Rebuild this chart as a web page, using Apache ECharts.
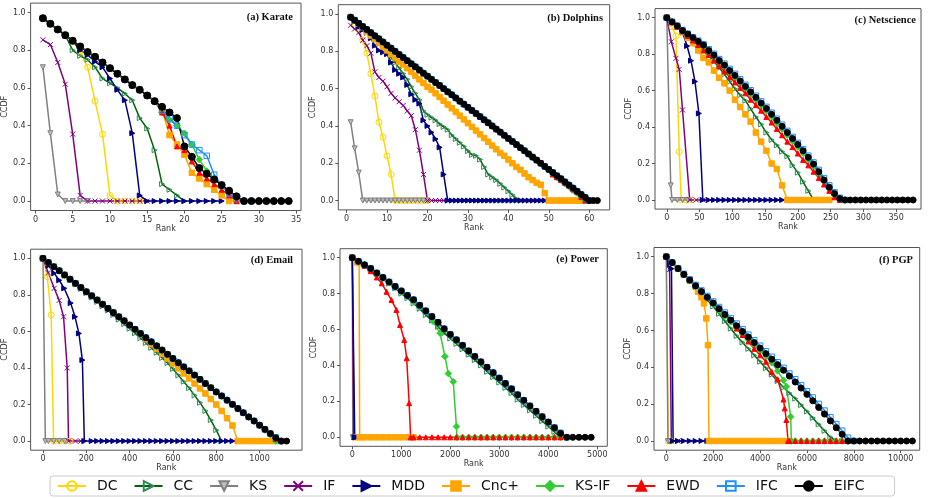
<!DOCTYPE html>
<html>
<head>
<meta charset="utf-8">
<script src="https://cdn.jsdelivr.net/npm/echarts@6/dist/echarts.min.js"></script>
<style>
  html, body { margin: 0; padding: 0; background: #fff; }
  #chart { width: 928px; height: 498px; }
</style>
</head>
<body>
<div id="chart"></div>
<script>
// ---- method names (legend order = drawing order) ----
const methodNames = ['DC', 'CC', 'KS', 'IF', 'MDD', 'Cnc+', 'KS-IF', 'EWD', 'IFC', 'EIFC'];

// ---- tick labels ----
const ccdfTicks = [0, 0.2, 0.4, 0.6, 0.8, 1.0];
const karateTicks = [0, 5, 10, 15, 20, 25, 30, 35];
const dolTicks = [0, 10, 20, 30, 40, 50, 60];
const netTicks = [0, 50, 100, 150, 200, 250, 300, 350];
const emailTicks = [0, 200, 400, 600, 800, 1000];
const powTicks = [0, 1000, 2000, 3000, 4000, 5000];
const pgpTicks = [0, 2000, 4000, 6000, 8000, 10000];

// ---- (a) Karate ----
const karateRank = [1,2,3,4,5,6,7,8,9,10,11,12,13,14,15,16,17,18,19,20,21,22,23,24,25,26,27,28,29,30,31,32,33,34];
const karateDC = [0.97,0.94,0.91,0.88,0.85,0.79,0.71,0.53,0.355,0.03,0,0,0,0];
const karateCC = [0.97,0.94,0.91,0.88,0.80,0.77,0.75,0.71,0.65,0.625,0.60,0.57,0.535,0.44,0.385,0.27,0.09,0.06,0.03,0];
const karateKS = [0.71,0.36,0.035,0,0,0,0];
const karateIF = [0.855,0.83,0.735,0.62,0.355,0.03,0,0,0,0,0,0,0,0,0];
const karateMDD = [0.97,0.94,0.91,0.88,0.85,0.80,0.775,0.74,0.71,0.65,0.59,0.535,0.36,0.03,0,0,0,0,0,0,0,0,0,0,0];
const karateCnc = [0.97,0.94,0.91,0.88,0.85,0.82,0.79,0.765,0.735,0.705,0.675,0.645,0.615,0.59,0.56,0.53,0.48,0.35,0.30,0.245,0.15,0.12,0.09,0.06,0.03,0,0];
const karateKSIF = [0.97,0.94,0.91,0.88,0.85,0.82,0.79,0.765,0.735,0.705,0.675,0.645,0.615,0.59,0.56,0.53,0.47,0.43,0.40,0.36,0.30,0.22,0.16,0.12,0.08,0.05,0.015,0];
const karateEWD = [0.97,0.94,0.91,0.88,0.85,0.82,0.79,0.765,0.735,0.705,0.675,0.645,0.615,0.59,0.56,0.53,0.47,0.40,0.29,0.27,0.21,0.15,0.12,0.09,0.06,0.03,0];
const karateIFC = [0.97,0.94,0.91,0.88,0.85,0.82,0.79,0.765,0.735,0.705,0.675,0.645,0.615,0.59,0.56,0.53,0.48,0.44,0.40,0.35,0.30,0.27,0.24,0.14,0.08,0.04,0.01,0];
const karateEIFC = [0.97,0.94,0.91,0.88,0.85,0.82,0.79,0.765,0.735,0.705,0.675,0.645,0.615,0.59,0.56,0.53,0.50,0.47,0.44,0.29,0.235,0.175,0.145,0.115,0.085,0.055,0.025,0,0,0,0,0,0,0];

// ---- (b) Dolphins ----
const dolRank = [1,2,3,4,5,6,7,8,9,10,11,12,13,14,15,16,17,18,19,20,21,22,23,24,25,26,27,28,29,30,31,32,33,34,35,36,37,38,39,40,41,42,43,44,45,46,47,48,49,50,51,52,53,54,55,56,57,58,59,60,61,62];
const dolDC = [0.983,0.95,0.92,0.86,0.79,0.68,0.56,0.42,0.34,0.24,0.14,0,0,0,0,0,0,0,0,0];
const dolCC = [0.983,0.967,0.95,0.93,0.91,0.89,0.865,0.845,0.82,0.79,
  0.765,0.74,0.71,0.68,0.65,0.61,0.575,0.54,0.48,0.46,
  0.445,0.43,0.41,0.395,0.38,0.35,0.33,0.31,0.29,0.265,
  0.245,0.24,0.22,0.18,0.14,0.125,0.11,0.09,0.07,0.05,
  0.03,0.01,0];
const dolKS = [0.42,0.28,0.15,0,0,0,0,0,0,0,0,0,0,0,0,0,0,0,0,0];
const dolIF = [0.94,0.92,0.90,0.86,0.83,0.79,0.69,0.66,0.64,0.61,
  0.575,0.55,0.53,0.51,0.48,0.455,0.38,0.27,0.14,0,0,0,0,0,0];
const dolMDD = [0.983,0.96,0.93,0.915,0.9,0.87,0.83,0.805,0.795,0.785,
  0.74,0.70,0.68,0.66,0.62,0.57,0.54,0.52,0.43,0.40,
  0.365,0.33,0.285,0.14,0,0,0,0,0,0,
  0,0,0,0,0,0,0,0,0,0,
  0,0,0,0,0,0,0,0,0,0];
const dolCnc = [0.983,0.967,0.95,0.93,0.905,0.885,0.865,0.845,0.825,0.805,
  0.785,0.765,0.745,0.73,0.71,0.69,0.67,0.65,0.63,0.61,
  0.595,0.575,0.555,0.535,0.515,0.495,0.475,0.455,0.435,0.415,
  0.395,0.375,0.355,0.335,0.315,0.295,0.275,0.255,0.24,0.22,
  0.2,0.18,0.165,0.145,0.125,0.11,0.095,0.085,0.04,0,
  0,0,0,0,0,0,0,0];
const dolKSIF = [0.983,0.967,0.95,0.933,0.917,0.9,0.883,0.867,0.85,0.833,
  0.817,0.8,0.783,0.767,0.75,0.733,0.717,0.7,0.683,0.667,
  0.65,0.633,0.617,0.6,0.583,0.567,0.55,0.533,0.517,0.5,
  0.483,0.467,0.45,0.433,0.417,0.4,0.383,0.367,0.35,0.333,
  0.317,0.3,0.283,0.267,0.25,0.233,0.217,0.2,0.183,0.165,
  0.145,0.125,0.11,0.09,0.075,0.055,0.04,0.02,0];
const dolEWD = [0.983,0.967,0.95,0.933,0.917,0.9,0.883,0.867,0.85,0.833,
  0.817,0.8,0.783,0.767,0.75,0.733,0.717,0.7,0.683,0.667,
  0.65,0.633,0.617,0.6,0.583,0.567,0.55,0.533,0.517,0.5,
  0.483,0.467,0.45,0.433,0.417,0.4,0.383,0.367,0.35,0.333,
  0.317,0.3,0.283,0.267,0.25,0.233,0.217,0.2,0.183,0.167,
  0.14,0.125,0.11,0.095,0.08,0.06,0.045,0.02,0];
const dolIFC = [0.983,0.967,0.95,0.933,0.917,0.9,0.883,0.867,0.85,0.833,
  0.817,0.8,0.783,0.767,0.75,0.733,0.717,0.7,0.683,0.667,
  0.65,0.633,0.617,0.6,0.583,0.567,0.55,0.533,0.517,0.5,
  0.483,0.467,0.45,0.433,0.417,0.4,0.383,0.367,0.35,0.333,
  0.317,0.3,0.283,0.267,0.25,0.233,0.217,0.2,0.183,0.167,
  0.15,0.133,0.117,0.1,0.083,0.067,0.05,0.033,0.017,0];
const dolEIFC = [0.983,0.967,0.95,0.933,0.917,0.9,0.883,0.867,0.85,0.833,
  0.817,0.8,0.783,0.767,0.75,0.733,0.717,0.7,0.683,0.667,
  0.65,0.633,0.617,0.6,0.583,0.567,0.55,0.533,0.517,0.5,
  0.483,0.467,0.45,0.433,0.417,0.4,0.383,0.367,0.35,0.333,
  0.317,0.3,0.283,0.267,0.25,0.233,0.217,0.2,0.183,0.167,
  0.15,0.133,0.117,0.1,0.083,0.067,0.05,0.033,0.017,0,
  0,0];

// ---- (c) Netscience ----
const netRank = [0,8,16,24,32,40,48,56,64,72,80,88,96,104,112,120,128,136,144,152,160,168,176,184,192,200,208,216,224,232,240,248,256,264,272,280,288,296,304,312,320,328,336,344,352,360,368,376];
const netDCRank = [0,8,14,19,22,30,38];
const netDC = [1,0.95,0.9,0.265,0,0,0];
const netCC = [1.0,0.975,0.95,0.925,0.9,0.875,0.85,0.82,0.79,0.76,
  0.725,0.69,0.65,0.61,0.575,0.545,0.5,0.455,0.415,0.37,
  0.33,0.3,0.265,0.24,0.19,0.15,0.1,0.05,0,0,0,0];
const netKSRank = [0,6,8,16,24,32];
const netKS = [1,0.08,0,0,0,0];
const netIFRank = [0,7,14,19,24,35,45,55];
const netIF = [1,0.868,0.777,0.717,0.494,0,0,0];
const netMDDRank = [0,8,16,24,31,37,43,49,55,64,72,80,88,96,104,112,120,128,136,144,152,160,168,176];
const netMDD = [1,0.98,0.955,0.92,0.845,0.764,0.65,0.475,0,0,0,0,0,0,0,0,0,0,0,0,0,0,0,0];
const netCnc = [1.0,0.975,0.95,0.92,0.89,0.86,0.82,0.78,0.755,0.71,
  0.67,0.64,0.6,0.55,0.51,0.47,0.43,0.37,0.32,0.27,
  0.2,0.17,0.08,0,0,0,0,0,0,0,0,0];
const netKSIF = [1.0,0.976,0.953,0.927,0.906,0.885,0.864,0.843,0.812,0.786,
  0.755,0.73,0.699,0.671,0.641,0.61,0.58,0.55,0.519,0.488,
  0.456,0.423,0.39,0.356,0.323,0.29,0.256,0.22,0.184,0.143,
  0.1,0.062,0.028,0.004,0];
const netEWD = [1.0,0.975,0.95,0.925,0.9,0.875,0.85,0.82,0.795,0.765,
  0.735,0.705,0.675,0.645,0.615,0.585,0.55,0.52,0.49,0.455,
  0.425,0.39,0.355,0.32,0.29,0.255,0.22,0.19,0.155,0.12,
  0.085,0.05,0.015,0];
const netIFC = [1.0,0.978,0.956,0.932,0.912,0.893,0.874,0.855,0.827,0.802,
  0.773,0.748,0.719,0.692,0.662,0.632,0.602,0.572,0.541,0.511,
  0.479,0.446,0.413,0.379,0.346,0.313,0.279,0.243,0.206,0.165,
  0.12,0.08,0.042,0.012,0];
const netEIFC = [1.0,0.977,0.955,0.93,0.91,0.89,0.87,0.85,0.82,0.795,
  0.765,0.74,0.71,0.683,0.653,0.623,0.593,0.563,0.532,0.502,
  0.47,0.437,0.404,0.37,0.337,0.304,0.27,0.234,0.197,0.155,
  0.11,0.07,0.035,0.008,0,0,0,0,0,0,
  0,0,0,0,0,0,0,0];

// ---- (d) Email ----
const emailRank = [0,25,50,75,100,125,150,175,200,225,250,275,300,325,350,375,400,425,450,475,500,525,550,575,600,625,650,675,700,725,750,775,800,825,850,875,900,925,950,975,1000,1025,1050,1075,1100,1125];
const emailDCRank = [0,20,38,49,75,100,125];
const emailDC = [1,0.9,0.69,0,0,0,0];
const emailCC = [1.0,0.975,0.952,0.93,0.905,0.88,0.857,0.833,0.81,0.786,
  0.762,0.738,0.715,0.69,0.665,0.64,0.615,0.59,0.563,0.537,
  0.51,0.483,0.455,0.427,0.395,0.36,0.325,0.29,0.25,0.21,
  0.165,0.115,0.06,0];
const emailKSRank = [0,11,25,50,75,100];
const emailKS = [1,0,0,0,0,0];
const emailIFRank = [0,25,52,75,95,112,118,150,175];
const emailIF = [1,0.92,0.836,0.77,0.68,0.4,0,0,0];
const emailMDDRank = [0,25,52,75,98,128,148,166,182,191,225,250,275,300,325,350,375,400,425,450,475,500,525,550,575,600,625,650,675,700,725,750,775,800,825,850,875,900];
const emailMDD = [1,0.96,0.918,0.88,0.836,0.755,0.68,0.589,0.443,0,
  0,0,0,0,0,0,0,0,0,0,0,0,0,0,0,0,0,0,0,0,0,0,0,0,0,0,0,0];
const emailCnc = [1.0,0.977,0.954,0.932,0.909,0.886,0.863,0.84,0.817,0.795,
  0.772,0.749,0.726,0.703,0.68,0.658,0.635,0.61,0.585,0.558,
  0.53,0.505,0.478,0.452,0.425,0.398,0.37,0.343,0.315,0.288,
  0.26,0.23,0.2,0.165,0.125,0.085,0,0,0,0,
  0,0,0,0];
const emailKSIF = [1.0,0.977,0.954,0.932,0.909,0.886,0.863,0.84,0.817,0.795,
  0.772,0.749,0.726,0.703,0.68,0.658,0.635,0.612,0.589,0.566,
  0.543,0.521,0.498,0.475,0.452,0.429,0.406,0.384,0.361,0.338,
  0.315,0.292,0.269,0.247,0.224,0.201,0.178,0.155,0.132,0.11,
  0.085,0.06,0.035,0,0];
const emailEWD = [1.0,0.977,0.954,0.932,0.909,0.886,0.863,0.84,0.817,0.795,
  0.772,0.749,0.726,0.703,0.68,0.658,0.635,0.612,0.589,0.566,
  0.543,0.521,0.498,0.475,0.452,0.429,0.406,0.384,0.361,0.338,
  0.315,0.292,0.269,0.247,0.224,0.201,0.178,0.155,0.132,0.11,
  0.087,0.064,0.04,0.012,0];
const emailIFC = [1.0,0.977,0.954,0.932,0.909,0.886,0.863,0.84,0.817,0.795,
  0.772,0.749,0.726,0.703,0.68,0.658,0.635,0.612,0.589,0.566,
  0.543,0.521,0.498,0.475,0.452,0.429,0.406,0.384,0.361,0.338,
  0.315,0.292,0.269,0.247,0.224,0.201,0.178,0.155,0.132,0.11,
  0.087,0.064,0.041,0.02,0];
const emailEIFC = [1.0,0.977,0.954,0.932,0.909,0.886,0.863,0.84,0.817,0.795,
  0.772,0.749,0.726,0.703,0.68,0.658,0.635,0.612,0.589,0.566,
  0.543,0.521,0.498,0.475,0.452,0.429,0.406,0.384,0.361,0.338,
  0.315,0.292,0.269,0.247,0.224,0.201,0.178,0.155,0.132,0.11,
  0.087,0.064,0.041,0.018,0,0];

// ---- (e) Power ----
const powRank = [0,125,250,375,500,625,750,875,1000,1125,1250,1375,1500,1625,1750,1875,2000,2125,2250,2375,2500,2625,2750,2875,3000,3125,3250,3375,3500,3625,3750,3875,4000,4125,4250,4375,4500,4625,4750,4875];
const powDCRank = [0,40,80];
const powDC = [1,0,0];
const powCC = [1.0,0.98,0.96,0.935,0.91,0.88,0.855,0.83,0.8,0.775,
  0.745,0.715,0.68,0.65,0.615,0.58,0.55,0.52,0.49,0.46,
  0.43,0.4,0.365,0.335,0.305,0.275,0.245,0.21,0.18,0.15,
  0.12,0.09,0.06,0.03,0];
const powKSRank = [0,10,60];
const powKS = [1,0,0];
const powIFRank = [0,30,60];
const powIF = [1,0,0];
const powMDDRank = [0,50,75];
const powMDD = [1,0,0];
const powCncRank = [0,90,140,150,250,375,500,625,750,875,1000,1125,1250];
const powCnc = [1,0.975,0.97,0,0,0,0,0,0,0,0,0,0];
const powKSIFRank = [0,125,250,375,500,625,750,875,1000,1125,1250,1375,1500,1650,1790,1890,1960,2060,2125,2135,2250,2375,2500,2625,2750,2875,3000,3125,3250,3375,3500,3625,3750,3875,4000,4125,4250];
const powKSIF = [1.0,0.98,0.96,0.935,0.91,0.885,0.86,0.835,0.81,0.785,
  0.755,0.725,0.7,0.645,0.58,0.45,0.355,0.31,0.06,0,
  0,0,0,0,0,0,0,0,0,0,0,0,0,0,0,0,0];
const powEWDRank = [0,125,250,375,500,600,700,800,900,975,1060,1110,1160,1190,1250,1375,1500,1625,1750,1875,2000,2125,2250,2375,2500,2625,2750,2875,3000,3125,3250,3375,3500,3625,3750,3875,4000,4125,4250];
const powEWD = [1.0,0.98,0.955,0.925,0.89,0.857,0.81,0.764,0.709,0.625,
  0.542,0.44,0.19,0,0,0,0,0,0,0,0,0,0,0,0,0,0,0,0,0,0,0,0,0,0,0,0,0,0];
const powIFC = [1.0,0.98,0.96,0.94,0.915,0.89,0.865,0.84,0.815,0.79,
  0.766,0.735,0.704,0.672,0.64,0.604,0.573,0.543,0.512,0.481,
  0.45,0.42,0.39,0.36,0.33,0.3,0.27,0.237,0.206,0.175,
  0.145,0.115,0.085,0.055,0.025,0];
const powEIFC = [1.0,0.98,0.96,0.94,0.915,0.89,0.865,0.84,0.815,0.79,
  0.766,0.735,0.704,0.672,0.64,0.604,0.573,0.543,0.512,0.481,
  0.45,0.42,0.39,0.36,0.33,0.3,0.27,0.237,0.206,0.175,
  0.145,0.115,0.085,0.053,0.022,0,0,0,0,0];

// ---- (f) PGP ----
const pgpRank = [0,250,500,750,1000,1250,1500,1750,2000,2250,2500,2750,3000,3250,3500,3750,4000,4250,4500,4750,5000,5250,5500,5750,6000,6250,6500,6750,7000,7250,7500,7750,8000,8250,8500,8750,9000,9250,9500,9750,10000,10250,10500];
const pgpDCRank = [0,80,200];
const pgpDC = [1,0,0];
const pgpCC = [1.0,0.968,0.935,0.9,0.868,0.835,0.8,0.765,0.73,0.69,
  0.65,0.61,0.57,0.535,0.5,0.465,0.43,0.395,0.36,0.325,
  0.29,0.26,0.23,0.195,0.16,0.125,0.09,0.055,0.02,0,0,0];
const pgpKSRank = [0,70,140];
const pgpKS = [1,0,0];
const pgpIFRank = [0,140,215,500];
const pgpIF = [1,0.93,0,0];
const pgpMDDRank = [0,150,220,290,500,750,1000,1250,1500,1750];
const pgpMDD = [1,0.96,0.935,0,0,0,0,0,0,0];
const pgpCncRank = [0,250,500,750,1000,1250,1351,1500,1607,1707,1778,1820,2000,2250,2500,2750,3000,3250,3500,3750,4000,4250,4500,4750,5000,5250];
const pgpCnc = [1.0,0.968,0.936,0.904,0.873,0.842,0.81,0.78,0.747,0.665,0.52,0,0,0,0,0,0,0,0,0,0,0,0,0,0,0];
const pgpKSIFRank = [0,250,500,750,1000,1250,1500,1750,2000,2250,2500,2750,3000,3250,3500,3750,4000,4250,4500,4750,5000,5121,5306,5334,5500,5750,6000,6250,6500,6750,7000,7250,7500,7750];
const pgpKSIF = [1.0,0.967,0.934,0.902,0.87,0.838,0.806,0.774,0.742,0.71,
  0.678,0.646,0.614,0.582,0.55,0.52,0.49,0.46,0.425,0.38,
  0.33,0.295,0.132,0,0,0,0,0,0,0,0,0,0,0];
const pgpEWDRank = [0,250,500,750,1000,1250,1500,1750,2000,2250,2500,2750,3000,3250,3500,3750,4000,4250,4500,4750,5000,5050,5121,5192,5250,5500,5750,6000,6250,6500,6750,7000,7250,7500,7750];
const pgpEWD = [1.0,0.968,0.936,0.904,0.873,0.842,0.811,0.78,0.749,0.718,
  0.687,0.656,0.61,0.575,0.54,0.5,0.465,0.43,0.375,0.335,
  0.225,0.177,0.114,0,0,0,0,0,0,0,0,0,0,0,0];
const pgpIFC = [1.0,0.969,0.938,0.907,0.877,0.847,0.817,0.787,0.757,0.727,
  0.697,0.667,0.637,0.607,0.577,0.547,0.517,0.487,0.457,0.427,
  0.397,0.366,0.335,0.303,0.27,0.236,0.201,0.165,0.129,0.092,
  0.056,0.018,0];
const pgpEIFC = [1.0,0.968,0.936,0.904,0.873,0.842,0.811,0.78,0.749,0.718,
  0.687,0.656,0.625,0.594,0.564,0.534,0.504,0.474,0.444,0.414,
  0.384,0.352,0.32,0.287,0.253,0.218,0.182,0.146,0.109,0.072,
  0.036,0,0,0,0,0,0,0,0,0,0,0,0];

// ---- marker / line styles per method ----
const methodStyle = {
  'DC':    { line: '#FFD700', fill: 'rgba(255,255,255,0)', border: '#FFD700', symbol: 'circle', rotate: 0, size: 6 },
  'CC':    { line: '#006400', fill: 'rgba(255,255,255,0)', border: '#2E8B57', symbol: 'triangle', rotate: -90, size: 5 },
  'KS':    { line: '#808080', fill: '#BDBDBD', border: '#808080', symbol: 'triangle', rotate: 180, size: 5 },
  'IF':    { line: '#800080', fill: '#800080', border: '#800080', symbol: 'path://M0,0L10,10M10,0L0,10', rotate: 0, size: 5 },
  'MDD':   { line: '#000080', fill: '#000080', border: '#000080', symbol: 'triangle', rotate: -90, size: 5 },
  'Cnc+':  { line: '#FFA500', fill: '#FFA500', border: '#FFA500', symbol: 'rect', rotate: 0, size: 5.5 },
  'KS-IF': { line: '#32CD32', fill: '#32CD32', border: '#32CD32', symbol: 'diamond', rotate: 0, size: 6.5 },
  'EWD':   { line: '#FF0000', fill: '#FF0000', border: '#FF0000', symbol: 'triangle', rotate: 0, size: 5 },
  'IFC':   { line: '#1E90FF', fill: 'rgba(255,255,255,0)', border: '#1E90FF', symbol: 'rect', rotate: 0, size: 5.5 },
  'EIFC':  { line: '#000000', fill: '#000000', border: '#000000', symbol: 'circle', rotate: 0, size: 6 }
};

// panel layout: box = [left, top, width, height] in px
const panels = [
  { title: '(a) Karate', box: [29.3, 3.1, 271.7, 207.4], xRange: [-0.65, 35.65], xTicks: karateTicks, titleAt: [293, 17],
    lines: [[karateRank, karateDC], [karateRank, karateCC], [karateRank, karateKS], [karateRank, karateIF], [karateRank, karateMDD],
            [karateRank, karateCnc], [karateRank, karateKSIF], [karateRank, karateEWD], [karateRank, karateIFC], [karateRank, karateEIFC]] },
  { title: '(b) Dolphins', box: [338.3, 4.7, 271.4, 205.2], xRange: [-2.05, 65.05], xTicks: dolTicks, titleAt: [603, 18],
    lines: [[dolRank, dolDC], [dolRank, dolCC], [dolRank, dolKS], [dolRank, dolIF], [dolRank, dolMDD],
            [dolRank, dolCnc], [dolRank, dolKSIF], [dolRank, dolEWD], [dolRank, dolIFC], [dolRank, dolEIFC]] },
  { title: '(c) Netscience', box: [655, 8.6, 266, 200.5], xRange: [-18, 388], xTicks: netTicks, titleAt: [916, 20],
    lines: [[netDCRank, netDC], [netRank, netCC], [netKSRank, netKS], [netIFRank, netIF], [netMDDRank, netMDD],
            [netRank, netCnc], [netRank, netKSIF], [netRank, netEWD], [netRank, netIFC], [netRank, netEIFC]] },
  { title: '(d) Email', box: [28.7, 249.2, 273.3, 201], xRange: [-57, 1196], xTicks: emailTicks, titleAt: [293, 260],
    lines: [[emailDCRank, emailDC], [emailRank, emailCC], [emailKSRank, emailKS], [emailIFRank, emailIF], [emailMDDRank, emailMDD],
            [emailRank, emailCnc], [emailRank, emailKSIF], [emailRank, emailEWD], [emailRank, emailIFC], [emailRank, emailEIFC]] },
  { title: '(e) Power', box: [340, 248.7, 267.3, 197.6], xRange: [-251, 5204], xTicks: powTicks, titleAt: [599, 259],
    lines: [[powDCRank, powDC], [powRank, powCC], [powKSRank, powKS], [powIFRank, powIF], [powMDDRank, powMDD],
            [powCncRank, powCnc], [powKSIFRank, powKSIF], [powEWDRank, powEWD], [powRank, powIFC], [powRank, powEIFC]] },
  { title: '(f) PGP', box: [654, 247.5, 265.7, 202.7], xRange: [-525, 10810], xTicks: pgpTicks, titleAt: [913, 260],
    lines: [[pgpDCRank, pgpDC], [pgpRank, pgpCC], [pgpKSRank, pgpKS], [pgpIFRank, pgpIF], [pgpMDDRank, pgpMDD],
            [pgpCncRank, pgpCnc], [pgpKSIFRank, pgpKSIF], [pgpEWDRank, pgpEWD], [pgpRank, pgpIFC], [pgpRank, pgpEIFC]] }
];

const axisFont = 'DejaVu Sans';
const axisColor = '#555';

const option = {
  animation: false,
  backgroundColor: '#fff',
  grid: [], xAxis: [], yAxis: [], series: [], graphic: [],
  legend: {
    data: methodNames,
    left: 50, top: 476,
    itemWidth: 28, itemHeight: 12, itemGap: 16,
    padding: [3, 30, 3, 7],
    borderColor: '#ccc', borderWidth: 1, borderRadius: 3,
    selectedMode: false,
    textStyle: { fontFamily: axisFont, fontSize: 14, color: '#111', padding: [0, 0, 0, 6] }
  }
};

panels.forEach((p, i) => {
  option.grid.push({
    left: p.box[0], top: p.box[1], width: p.box[2], height: p.box[3],
    show: true, borderColor: axisColor, borderWidth: 1, backgroundColor: 'transparent'
  });
  option.xAxis.push({
    type: 'value', gridIndex: i, min: p.xRange[0], max: p.xRange[1],
    name: 'Rank', nameLocation: 'middle', nameGap: 14,
    nameTextStyle: { fontFamily: axisFont, fontSize: 8, color: '#333' },
    splitLine: { show: false },
    axisLine: { show: false, onZero: false },
    axisTick: { show: true, length: 3, customValues: p.xTicks, lineStyle: { color: axisColor } },
    axisLabel: { customValues: p.xTicks, fontFamily: axisFont, fontSize: 8, color: '#333', margin: 5,
                 formatter: v => String(v) }
  });
  option.yAxis.push({
    type: 'value', gridIndex: i, min: -0.05, max: 1.05,
    name: 'CCDF', nameLocation: 'middle', nameGap: 20, nameRotate: 90,
    nameTextStyle: { fontFamily: axisFont, fontSize: 8, color: '#333' },
    splitLine: { show: false },
    axisLine: { show: false, onZero: false },
    axisTick: { show: true, length: 3, customValues: ccdfTicks, lineStyle: { color: axisColor } },
    axisLabel: { customValues: ccdfTicks, fontFamily: axisFont, fontSize: 8, color: '#333', margin: 5,
                 formatter: v => v.toFixed(1) }
  });
  option.graphic.push({
    type: 'text', x: p.titleAt[0], y: p.titleAt[1], z: 100,
    style: { text: p.title, align: 'right', verticalAlign: 'middle',
             font: 'bold 10.5px "Liberation Serif", "Times New Roman", serif', fill: '#111' }
  });
  p.lines.forEach((pair, k) => {
    const name = methodNames[k];
    const st = methodStyle[name];
    const rank = pair[0], vals = pair[1];
    option.series.push({
      type: 'line', name: name, xAxisIndex: i, yAxisIndex: i,
      data: vals.map((v, j) => [rank[j], v]),
      symbol: st.symbol, symbolSize: (i === 0 && name === 'EIFC') ? 7 : st.size, symbolRotate: st.rotate,
      showSymbol: true, silent: true,
      lineStyle: { color: st.line, width: 1.5 },
      itemStyle: { color: st.fill, borderColor: st.border, borderWidth: 1 }
    });
  });
});

const chart = echarts.init(document.getElementById('chart'), null, { renderer: 'canvas' });
chart.setOption(option);
</script>
</body>
</html>
